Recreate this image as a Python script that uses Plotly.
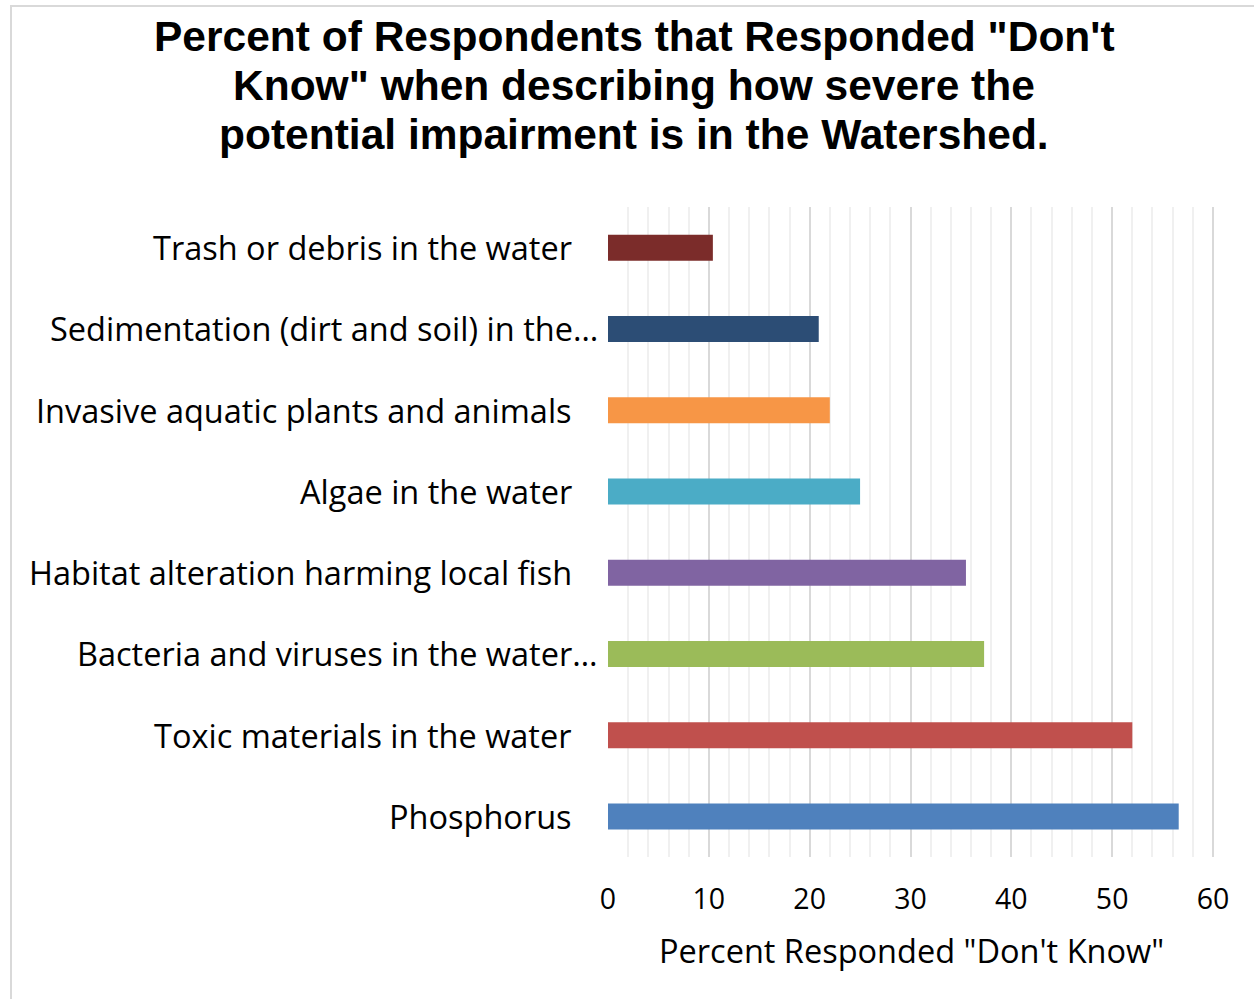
import plotly.graph_objects as go

# Survey categories (bottom to top) and share answering "Don't Know"
categories = [
    "Phosphorus",
    "Toxic materials in the water",
    "Bacteria and viruses in the water…",
    "Habitat alteration harming local fish",
    "Algae in the water",
    "Invasive aquatic plants and animals",
    "Sedimentation (dirt and soil) in the…",
    "Trash or debris in the water",
]
percent_dont_know = [56.6, 52.0, 37.3, 35.5, 25.0, 22.0, 20.9, 10.4]
bar_colors = ["#4F81BD", "#C0504D", "#9BBB59", "#8064A2",
              "#4BACC6", "#F79646", "#2C4D75", "#7B2C2A"]

x_ticks = [0, 10, 20, 30, 40, 50, 60]
title_lines = [
    "Percent of Respondents that Responded \"Don't",
    "Know\" when describing how severe the",
    "potential impairment is in the Watershed.",
]
x_title = "Percent Responded \"Don't Know\""

W, H = 1254, 999
L, R, T, B = 608, 40, 207, 142
plot_w = W - L - R
plot_h = H - T - B

LABEL_FONT = "Open Sans, Calibri, sans-serif"
TEXT_COLOR = "#000000"


def px_to_paper_x(px):
    return (px - L) / plot_w


def py_to_paper_y(py):
    return (H - B - py) / plot_h


fig = go.Figure(
    go.Bar(
        x=percent_dont_know,
        y=categories,
        orientation="h",
        marker=dict(color=bar_colors, line=dict(width=0)),
        width=0.32,
        hoverinfo="x+y",
    )
)

# Category labels drawn as annotations so truncated names sit closer to the bars
annotations = []
for cat in categories:
    gap = 8 if cat.endswith("…") else 34
    annotations.append(dict(
        x=px_to_paper_x(L - gap), xref="paper", xanchor="right",
        y=cat, yref="y", yanchor="middle",
        text=cat, showarrow=False,
        font=dict(family=LABEL_FONT, size=32.5, color=TEXT_COLOR),
    ))

# Chart title, three centred lines
for i, line in enumerate(title_lines):
    annotations.append(dict(
        x=px_to_paper_x(634), xref="paper", xanchor="center",
        y=py_to_paper_y(36 + 49 * i), yref="paper", yanchor="middle",
        text=f"<b>{line}</b>", showarrow=False,
        font=dict(family="Liberation Sans, Arial, sans-serif", size=42.5, color=TEXT_COLOR),
    ))

# Axis title
annotations.append(dict(
    x=px_to_paper_x(911), xref="paper", xanchor="center",
    y=py_to_paper_y(950), yref="paper", yanchor="middle",
    text=x_title, showarrow=False,
    font=dict(family=LABEL_FONT, size=32.5, color=TEXT_COLOR),
))

fig.update_layout(
    width=W, height=H,
    margin=dict(l=L, r=R, t=T, b=B, pad=0),
    paper_bgcolor="white",
    plot_bgcolor="white",
    showlegend=False,
    annotations=annotations,
    shapes=[dict(
        type="rect", xref="paper", yref="paper",
        x0=px_to_paper_x(11), x1=px_to_paper_x(1300),
        y0=py_to_paper_y(1050), y1=py_to_paper_y(6),
        line=dict(color="#D9D9D9", width=2), fillcolor="rgba(0,0,0,0)",
        layer="below",
    )],
)

# A hair of extra range so the gridline at 60 is drawn inside the plot area
fig.update_xaxes(
    range=[0, 60.1],
    tickvals=x_ticks,
    ticktext=[str(v) for v in x_ticks],
    showgrid=True, gridcolor="#D9D9D9", gridwidth=1.5,
    minor=dict(dtick=2, showgrid=True, gridcolor="#F0F0F0", gridwidth=1.5),
    zeroline=False, showline=False, ticks="",
    ticklabelstandoff=22,
    tickfont=dict(family=LABEL_FONT, size=28.5, color=TEXT_COLOR),
    fixedrange=True,
)
fig.update_yaxes(
    categoryorder="array", categoryarray=categories,
    range=[-0.5, len(categories) - 0.5],
    showticklabels=False, showgrid=False, zeroline=False, showline=False,
    ticks="", fixedrange=True,
)

fig.write_html("out.html")
